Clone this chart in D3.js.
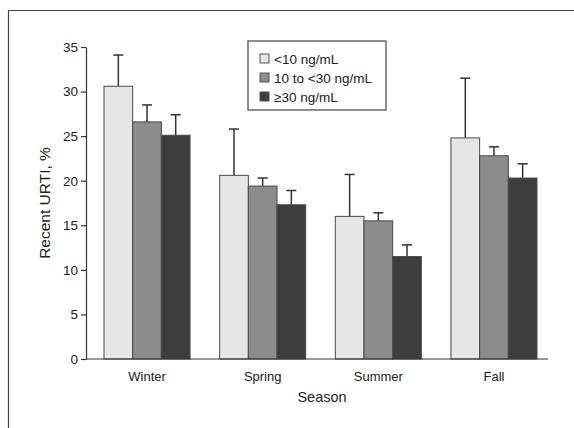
<!DOCTYPE html>
<html>
<head>
<meta charset="utf-8">
<script src="https://cdn.jsdelivr.net/npm/d3@7"></script>
<style>
  body { margin: 0; background: #fff; }
  svg { display: block; }
  text { font-family: "Liberation Sans Narrow", "Arial Narrow", "Liberation Sans", sans-serif; fill: #222; }
</style>
</head>
<body>
<svg id="chart" width="574" height="428"></svg>
<script>
// Seasons along the x axis
var seasons = ['Winter', 'Spring', 'Summer', 'Fall'];

// Vitamin D groups (legend)
var groups = ['<10 ng/mL', '10 to <30 ng/mL', '\u226530 ng/mL'];

// Recent URTI, % per group (bar heights)
var lowValues = [30.6, 20.6, 16.0, 24.8];
var midValues = [26.6, 19.4, 15.5, 22.8];
var highValues = [25.1, 17.3, 11.5, 20.3];

// Upper ends of the error bars
var lowUpper = [34.1, 25.8, 20.7, 31.5];
var midUpper = [28.5, 20.3, 16.4, 23.8];
var highUpper = [27.4, 18.9, 12.8, 21.9];

var yTicks = [0, 5, 10, 15, 20, 25, 30, 35];

var colors = ['#e6e6e6', '#8c8c8c', '#3d3d3d'];

var svg = d3.select('#chart');

// Frame round the figure (top and left only)
svg.append('path')
  .attr('d', 'M8.5,428 V10.5 H574')
  .attr('fill', 'none')
  .attr('stroke', '#444')
  .attr('stroke-width', 1.2);

var x = d3.scaleBand()
  .domain(seasons)
  .range([84, 557])
  .paddingInner(0.256)
  .paddingOuter(0.173);

var xInner = d3.scaleBand()
  .domain(groups)
  .range([0, x.bandwidth()]);

var y = d3.scaleLinear()
  .domain([0, 35])
  .range([359, 47]);

var rows = [];
seasons.forEach(function(s, i) {
  rows.push({season: s, group: groups[0], value: lowValues[i], upper: lowUpper[i], k: 0});
  rows.push({season: s, group: groups[1], value: midValues[i], upper: midUpper[i], k: 1});
  rows.push({season: s, group: groups[2], value: highValues[i], upper: highUpper[i], k: 2});
});

function mid(d) { return x(d.season) + xInner(d.group) + xInner.bandwidth() / 2; }

// Error bars (behind the bars)
var err = svg.append('g');
err.selectAll('line.stem')
  .data(rows)
  .enter().append('line')
  .attr('x1', mid)
  .attr('x2', mid)
  .attr('y1', function(d) { return y(d.value); })
  .attr('y2', function(d) { return y(d.upper); })
  .attr('stroke', '#333')
  .attr('stroke-width', 1.5);

err.selectAll('line.cap')
  .data(rows)
  .enter().append('line')
  .attr('x1', function(d) { return mid(d) - 5; })
  .attr('x2', function(d) { return mid(d) + 5; })
  .attr('y1', function(d) { return y(d.upper); })
  .attr('y2', function(d) { return y(d.upper); })
  .attr('stroke', '#333')
  .attr('stroke-width', 1.5);

// Bars
svg.append('g')
  .selectAll('rect')
  .data(rows)
  .enter().append('rect')
  .attr('x', function(d) { return x(d.season) + xInner(d.group); })
  .attr('y', function(d) { return y(d.value); })
  .attr('width', xInner.bandwidth())
  .attr('height', function(d) { return y(0) - y(d.value); })
  .attr('fill', function(d) { return colors[d.k]; })
  .attr('stroke', '#4a4a4a')
  .attr('stroke-width', 1);

// Y axis
var yAxis = svg.append('g')
  .attr('transform', 'translate(86, 0)')
  .call(d3.axisLeft(y).tickValues(yTicks).tickSize(5).tickSizeOuter(0));
yAxis.selectAll('path, line').attr('stroke', '#333').attr('stroke-width', 1.2);
yAxis.selectAll('text').style('font-size', '13.5px').attr('x', -8);

// X axis baseline and labels
svg.append('line')
  .attr('x1', 86).attr('x2', 548)
  .attr('y1', y(0)).attr('y2', y(0))
  .attr('stroke', '#333')
  .attr('stroke-width', 1.2);

var xAxis = svg.append('g')
  .attr('transform', 'translate(0,' + y(0) + ')')
  .call(d3.axisBottom(x).tickSize(0).tickPadding(13));
xAxis.select('.domain').remove();
xAxis.selectAll('text').style('font-size', '13px');

// Axis titles
svg.append('text')
  .attr('x', 322)
  .attr('y', 402)
  .attr('text-anchor', 'middle')
  .style('font-size', '14.5px')
  .text('Season');

svg.append('text')
  .attr('transform', 'translate(50, 203) rotate(-90)')
  .attr('text-anchor', 'middle')
  .style('font-size', '15.5px')
  .text('Recent URTI, %');

// Legend
var legend = svg.append('g').attr('transform', 'translate(248, 41)');
legend.append('rect')
  .attr('width', 138)
  .attr('height', 69)
  .attr('fill', '#fff')
  .attr('stroke', '#444')
  .attr('stroke-width', 1.2);

var item = legend.selectAll('g.item')
  .data(groups)
  .enter().append('g')
  .attr('transform', function(d, i) { return 'translate(12,' + (18 + i * 19) + ')'; });

item.append('rect')
  .attr('x', 0).attr('y', -5)
  .attr('width', 9).attr('height', 9)
  .attr('fill', function(d, i) { return colors[i]; })
  .attr('stroke', '#555');

item.append('text')
  .attr('x', 14)
  .attr('dy', '0.35em')
  .style('font-size', '13.5px')
  .text(function(d) { return d; });
</script>
</body>
</html>
